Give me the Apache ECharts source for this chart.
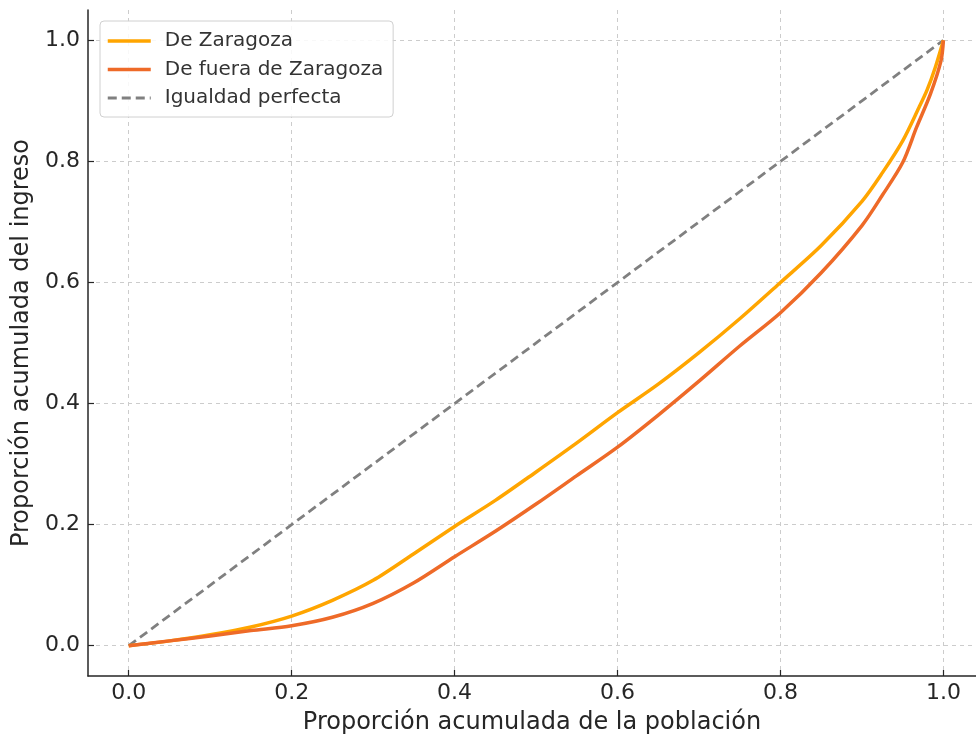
<!DOCTYPE html>
<html>
<head>
<meta charset="utf-8">
<script src="https://cdn.jsdelivr.net/npm/echarts@6/dist/echarts.min.js"></script>
<style>html,body{margin:0;padding:0;background:#fff;}#c{width:976px;height:740px;}</style>
</head>
<body>
<div id="c"></div>
<script>
const tickValues = [0, 0.2, 0.4, 0.6, 0.8, 1.0];
const popZaragoza = [0, 0.05, 0.1, 0.15, 0.2, 0.25, 0.3, 0.35, 0.4, 0.45, 0.5, 0.55, 0.6, 0.65, 0.7, 0.75, 0.8, 0.85, 0.9, 0.925, 0.95, 0.97, 0.98, 0.99, 1.0];
const incZaragoza = [0, 0.008, 0.018, 0.031, 0.049, 0.075, 0.108, 0.152, 0.197, 0.240, 0.287, 0.335, 0.385, 0.432, 0.484, 0.540, 0.600, 0.661, 0.734, 0.781, 0.834, 0.889, 0.918, 0.955, 1.0];
const popFuera = [0, 0.05, 0.1, 0.15, 0.2, 0.25, 0.3, 0.35, 0.4, 0.45, 0.5, 0.55, 0.6, 0.65, 0.7, 0.75, 0.8, 0.85, 0.9, 0.925, 0.95, 0.967, 0.984, 0.997, 1.0];
const incFuera = [0, 0.008, 0.016, 0.025, 0.033, 0.047, 0.070, 0.104, 0.147, 0.189, 0.234, 0.281, 0.328, 0.381, 0.437, 0.495, 0.550, 0.616, 0.694, 0.744, 0.798, 0.856, 0.911, 0.966, 1.0];
const popIgualdad = [0, 1];
const incIgualdad = [0, 1];
const seriesNames = ['De Zaragoza', 'De fuera de Zaragoza', 'Igualdad perfecta'];

function pairs(xs, ys) { return xs.map((x, i) => [x, ys[i]]); }

const chart = echarts.init(document.getElementById('c'), null, {renderer: 'canvas'});
const font = 'DejaVu Sans';
function axis(extra) {
  return Object.assign({
    type: 'value',
    axisLine: {show: true, onZero: false, lineStyle: {color: '#262626', width: 1.5}},
    axisTick: {show: true, inside: true, length: 6, customValues: tickValues, lineStyle: {color: '#262626', width: 1.2}},
    splitLine: {show: true, lineStyle: {color: '#cccccc', type: [4, 4], width: 1}},
    nameLocation: 'middle',
    nameTextStyle: {color: '#262626', fontFamily: font, fontSize: 24}
  }, extra);
}
chart.setOption({
  animation: false,
  backgroundColor: '#ffffff',
  grid: {left: 88, right: 0, top: 10, bottom: 64, containLabel: false},
  xAxis: axis({
    min: -0.05, max: 1.04,
    name: 'Proporción acumulada de la población', nameGap: 35,
    axisLabel: {customValues: tickValues, color: '#262626', fontFamily: font, fontSize: 22, margin: 6, formatter: v => v.toFixed(1)}
  }),
  yAxis: axis({
    min: -0.05, max: 1.05,
    name: 'Proporción acumulada del ingreso', nameGap: 54,
    axisLabel: {customValues: tickValues, color: '#262626', fontFamily: font, fontSize: 22, margin: 8, formatter: v => v.toFixed(1)}
  }),
  legend: {
    left: 100, top: 21, orient: 'vertical',
    itemWidth: 43, itemHeight: 16, itemGap: 8.5,
    padding: [10, 10, 9, 6],
    backgroundColor: 'rgba(255,255,255,0.85)',
    borderColor: '#d0d0d0', borderWidth: 1, borderRadius: 4,
    itemStyle: {opacity: 0},
    textStyle: {color: '#333333', fontFamily: font, fontSize: 20, padding: [0, 0, 0, 9]},
    data: [
      {name: seriesNames[0], lineStyle: {width: 3.5}},
      {name: seriesNames[1], lineStyle: {width: 3.5}},
      {name: seriesNames[2], lineStyle: {width: 2.8}}
    ]
  },
  series: [
    {name: seriesNames[0], type: 'line', data: pairs(popZaragoza, incZaragoza), smooth: 0.3, showSymbol: false, symbol: 'none',
     lineStyle: {color: '#FFA500', width: 3.5}, itemStyle: {color: '#FFA500'}, z: 3},
    {name: seriesNames[1], type: 'line', data: pairs(popFuera, incFuera), smooth: 0.3, showSymbol: false, symbol: 'none',
     lineStyle: {color: '#EE6A28', width: 3.5}, itemStyle: {color: '#EE6A28'}, z: 4},
    {name: seriesNames[2], type: 'line', data: pairs(popIgualdad, incIgualdad), showSymbol: false, symbol: 'none',
     lineStyle: {color: '#808080', width: 2.8, type: [9, 5]}, itemStyle: {color: '#808080'}, z: 2}
  ]
});
</script>
</body>
</html>
